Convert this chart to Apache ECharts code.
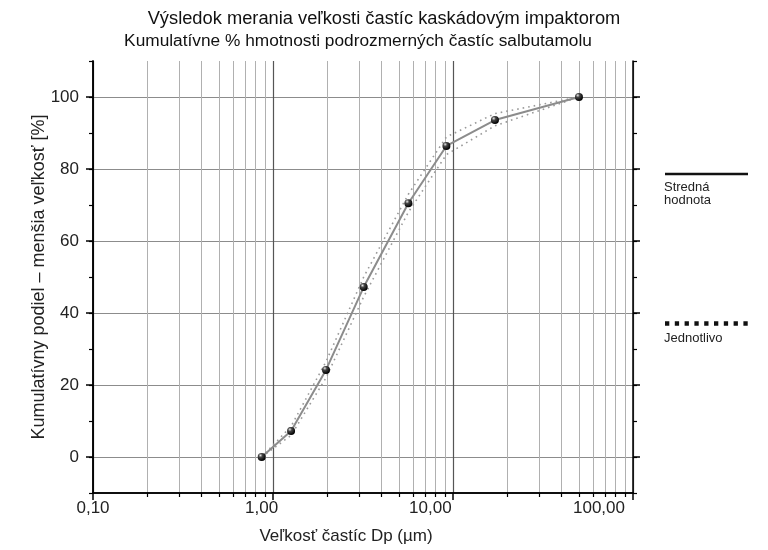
<!DOCTYPE html>
<html>
<head>
<meta charset="utf-8">
<script src="https://cdn.jsdelivr.net/npm/echarts@6/dist/echarts.min.js"></script>
<style>
  html, body { margin: 0; padding: 0; background: #fff; }
  #chart { width: 768px; height: 550px; }
</style>
</head>
<body>
<div id="chart"></div>
<script>
// particle size cut-offs (um) and cumulative undersize mass (%)
var sizes = [0.865, 1.26, 1.97, 3.19, 5.65, 9.19, 17.1, 50.1];
var meanPct = [0, 7.2, 24.2, 47.2, 70.5, 86.4, 93.6, 100];
var runA = [0, 8.5, 26.5, 50, 73, 88.9, 95.4, 100];
var runB = [0, 6, 22, 44.5, 68, 84, 92, 100];

var decadeTicks = [0.1, 1, 10, 100];
var minorTicks = [0.2, 0.3, 0.4, 0.5, 0.6, 0.7, 0.8, 0.9,
                  2, 3, 4, 5, 6, 7, 8, 9,
                  20, 30, 40, 50, 60, 70, 80, 90];
var yMajor = [0, 20, 40, 60, 80, 100];

var font = "'Liberation Sans', Arial, sans-serif";

function pairs(xs, ys) {
    return xs.map(function(x, i) { return [x, ys[i]]; });
}

function fmtSize(v) {
    return v.toFixed(2).replace('.', ',');
}

var sphere = new echarts.graphic.RadialGradient(0.35, 0.3, 0.7, [
    { offset: 0, color: '#e8e8e8' },
    { offset: 0.35, color: '#444' },
    { offset: 1, color: '#000' }
]);

var dotted = {
    type: 'line',
    xAxisIndex: 0,
    yAxisIndex: 0,
    symbol: 'none',
    silent: true,
    lineStyle: { color: '#9a9a9a', width: 1.6, type: [1.6, 4] },
    z: 2
};

var option = {
    animation: false,
    backgroundColor: '#fff',
    title: [
        {
            text: 'Výsledok merania veľkosti častíc kaskádovým impaktorom',
            left: 379, top: 5, textAlign: 'center',
            textStyle: { fontFamily: font, fontSize: 18.3, fontWeight: 'normal', color: '#111' }
        },
        {
            text: 'Kumulatívne % hmotnosti podrozmerných častíc salbutamolu',
            left: 353, top: 28, textAlign: 'center',
            textStyle: { fontFamily: font, fontSize: 17.3, fontWeight: 'normal', color: '#111' }
        }
    ],
    grid: [
        { left: 93, right: 135, top: 61, bottom: 57 },
        { left: 93, right: 169, top: 61, bottom: 57 }
    ],
    xAxis: [
        {
            type: 'log', gridIndex: 0, min: 0.1, max: 100,
            axisLine: { onZero: false, lineStyle: { color: '#000', width: 1.5 } },
            axisTick: { customValues: minorTicks, length: 4, lineStyle: { color: '#000', width: 1.2 } },
            axisLabel: { show: false },
            splitLine: { show: true, lineStyle: { color: '#b0b0b0', width: 1 } }
        },
        {
            type: 'log', gridIndex: 0, min: 0.1, max: 100, position: 'bottom',
            axisLine: { onZero: false, lineStyle: { color: '#000', width: 1.5 } },
            axisTick: { customValues: decadeTicks, length: 7, lineStyle: { color: '#000', width: 1.5 } },
            axisLabel: { show: false },
            splitLine: { show: true, lineStyle: { color: '#555', width: 1.2 } }
        },
        {
            type: 'log', gridIndex: 1, min: 0.1, max: 100,
            axisLine: { show: false, onZero: false },
            axisTick: { show: false },
            splitLine: { show: false },
            axisLabel: {
                margin: 9, fontFamily: font, fontSize: 17, color: '#222',
                showMinLabel: true, showMaxLabel: true,
                formatter: fmtSize
            },
            name: 'Veľkosť častíc Dp (µm)',
            nameLocation: 'middle', nameGap: 37, nameMoveOverlap: false,
            nameTextStyle: { fontFamily: font, fontSize: 17, color: '#222' }
        }
    ],
    yAxis: [
        {
            type: 'value', gridIndex: 0, position: 'left', min: -10, max: 110, interval: 10,
            axisLine: { show: true, onZero: false, lineStyle: { color: '#000', width: 1.5 } },
            axisTick: { show: true, length: 4, lineStyle: { color: '#000', width: 1.2 } },
            axisLabel: { show: false },
            splitLine: { show: false }
        },
        {
            type: 'value', gridIndex: 0, position: 'left', min: -10, max: 110,
            axisLine: { show: true, onZero: false, lineStyle: { color: '#000', width: 1.5 } },
            axisTick: { show: true, customValues: yMajor, length: 7, lineStyle: { color: '#000', width: 1.5 } },
            axisLabel: {
                customValues: yMajor, margin: 14,
                fontFamily: font, fontSize: 17, color: '#222'
            },
            splitLine: { show: true, lineStyle: { color: '#8c8c8c', width: 1.2 } },
            name: 'Kumulatívny podiel – menšia veľkosť [%]',
            nameLocation: 'middle', nameGap: 45, nameMoveOverlap: false,
            nameTextStyle: { fontFamily: font, fontSize: 18, color: '#222' }
        },
        {
            type: 'value', gridIndex: 0, position: 'right', min: -10, max: 110, interval: 10,
            axisLine: { show: true, onZero: false, lineStyle: { color: '#000', width: 1.5 } },
            axisTick: { show: true, length: 4, lineStyle: { color: '#000', width: 1.2 } },
            axisLabel: { show: false },
            splitLine: { show: false }
        },
        {
            type: 'value', gridIndex: 0, position: 'right', min: -10, max: 110,
            axisLine: { show: false, onZero: false },
            axisTick: { show: true, customValues: yMajor, length: 7, lineStyle: { color: '#000', width: 1.5 } },
            axisLabel: { show: false },
            splitLine: { show: false }
        },
        {
            type: 'value', gridIndex: 1, show: false, min: -10, max: 110
        }
    ],
    graphic: [
        { type: 'line', shape: { x1: 665, y1: 174, x2: 748, y2: 174 }, style: { stroke: '#111', lineWidth: 2.5 } },
        { type: 'text', left: 664, top: 181, style: { text: 'Stredná\nhodnota', font: '13px ' + font, fill: '#222', lineHeight: 12.5 } },
        { type: 'line', shape: { x1: 665, y1: 323.5, x2: 748, y2: 323.5 }, style: { stroke: '#111', lineWidth: 4.3, lineDash: [4.3, 5.5] } },
        { type: 'text', left: 664, top: 332, style: { text: 'Jednotlivo', font: '13px ' + font, fill: '#222' } }
    ],
    series: [
        Object.assign({ name: 'Jednotlivo A', data: pairs(sizes, runA) }, dotted),
        Object.assign({ name: 'Jednotlivo B', data: pairs(sizes, runB) }, dotted),
        {
            name: 'Stredná hodnota',
            type: 'line',
            xAxisIndex: 0,
            yAxisIndex: 0,
            data: pairs(sizes, meanPct),
            symbol: 'circle',
            symbolSize: 8,
            showAllSymbol: true,
            lineStyle: { color: '#8c8c8c', width: 2 },
            itemStyle: { color: sphere, borderWidth: 0 },
            z: 3
        }
    ]
};

echarts.init(document.getElementById('chart'), null, { renderer: 'canvas' }).setOption(option);
</script>
</body>
</html>
